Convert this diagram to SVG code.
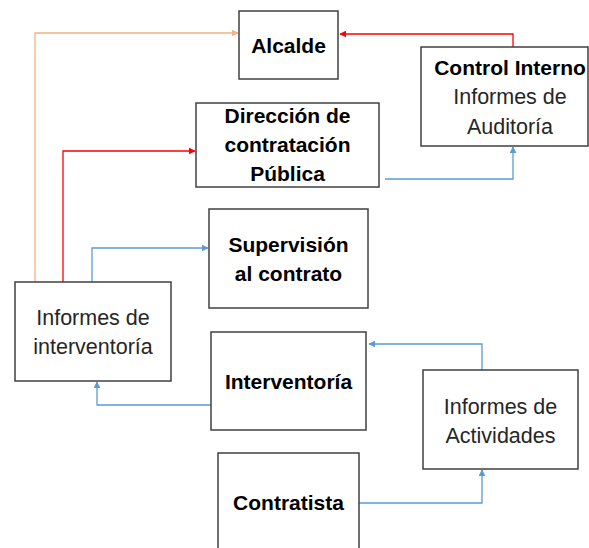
<svg xmlns="http://www.w3.org/2000/svg" width="589" height="548" viewBox="0 0 589 548">
<style>
.box{fill:#fff;stroke:#404040;stroke-width:1.5}
.t{font-family:"Liberation Sans",Arial,sans-serif;font-size:21.5px;fill:#262626;text-anchor:middle}
.b{font-weight:bold;fill:#000;font-size:21px}
.c{fill:none;stroke-width:1.3}
</style>
<defs>
<marker id="aO" viewBox="0 0 10 10" refX="9" refY="5" markerWidth="7" markerHeight="7" orient="auto" markerUnits="userSpaceOnUse"><path d="M0,0L10,5L0,10z" fill="#F4B183"/></marker>
<marker id="aR" viewBox="0 0 10 10" refX="9" refY="5" markerWidth="7" markerHeight="7" orient="auto" markerUnits="userSpaceOnUse"><path d="M0,0L10,5L0,10z" fill="#FF0000"/></marker>
<marker id="aB" viewBox="0 0 10 10" refX="9" refY="5" markerWidth="7" markerHeight="7" orient="auto" markerUnits="userSpaceOnUse"><path d="M0,0L10,5L0,10z" fill="#5B9BD5"/></marker>
</defs>
<g id="connectors">
<path class="c" stroke="#F4B183" d="M35,282V33H238" marker-end="url(#aO)"/>
<path class="c" stroke="#FF0000" d="M63,282V151H195" marker-end="url(#aR)"/>
<path class="c" stroke="#FF0000" d="M513,47V34H340" marker-end="url(#aR)"/>
<path class="c" stroke="#5B9BD5" d="M385,179H513V147" marker-end="url(#aB)"/>
<path class="c" stroke="#5B9BD5" d="M92,282V248H208" marker-end="url(#aB)"/>
<path class="c" stroke="#5B9BD5" d="M211,405H97V382" marker-end="url(#aB)"/>
<path class="c" stroke="#5B9BD5" d="M482,370V344H369" marker-end="url(#aB)"/>
<path class="c" stroke="#5B9BD5" d="M359,503H482V470" marker-end="url(#aB)"/>
</g>
<g id="alcalde"><rect class="box" x="239" y="11" width="99" height="68"/><text class="t b" x="288.5" y="53">Alcalde</text></g>
<g id="direccion"><rect class="box" x="196" y="103" width="183" height="84"/>
<text class="t b" x="287.5" y="123">Dirección de</text><text class="t b" x="287.5" y="152">contratación</text><text class="t b" x="287.5" y="181">Pública</text></g>
<g id="control"><rect class="box" x="421" y="47" width="167" height="99"/>
<text class="t b" x="510" y="75">Control Interno</text><text class="t" x="510" y="104">Informes de</text><text class="t" x="510" y="134">Auditoría</text></g>
<g id="supervision"><rect class="box" x="209" y="209" width="159" height="99"/>
<text class="t b" x="288.5" y="252">Supervisión</text><text class="t b" x="288.5" y="281">al contrato</text></g>
<g id="informes-interventoria"><rect class="box" x="15" y="282" width="156" height="99"/>
<text class="t" x="93" y="325">Informes de</text><text class="t" x="93" y="354">interventoría</text></g>
<g id="interventoria"><rect class="box" x="211" y="332" width="155" height="98"/>
<text class="t b" x="288.5" y="389">Interventoría</text></g>
<g id="informes-actividades"><rect class="box" x="423" y="370" width="155" height="99"/>
<text class="t" x="500.5" y="414">Informes de</text><text class="t" x="500.5" y="443">Actividades</text></g>
<g id="contratista"><rect class="box" x="218" y="453" width="141" height="100"/>
<text class="t b" x="288.5" y="510">Contratista</text></g>
</svg>
